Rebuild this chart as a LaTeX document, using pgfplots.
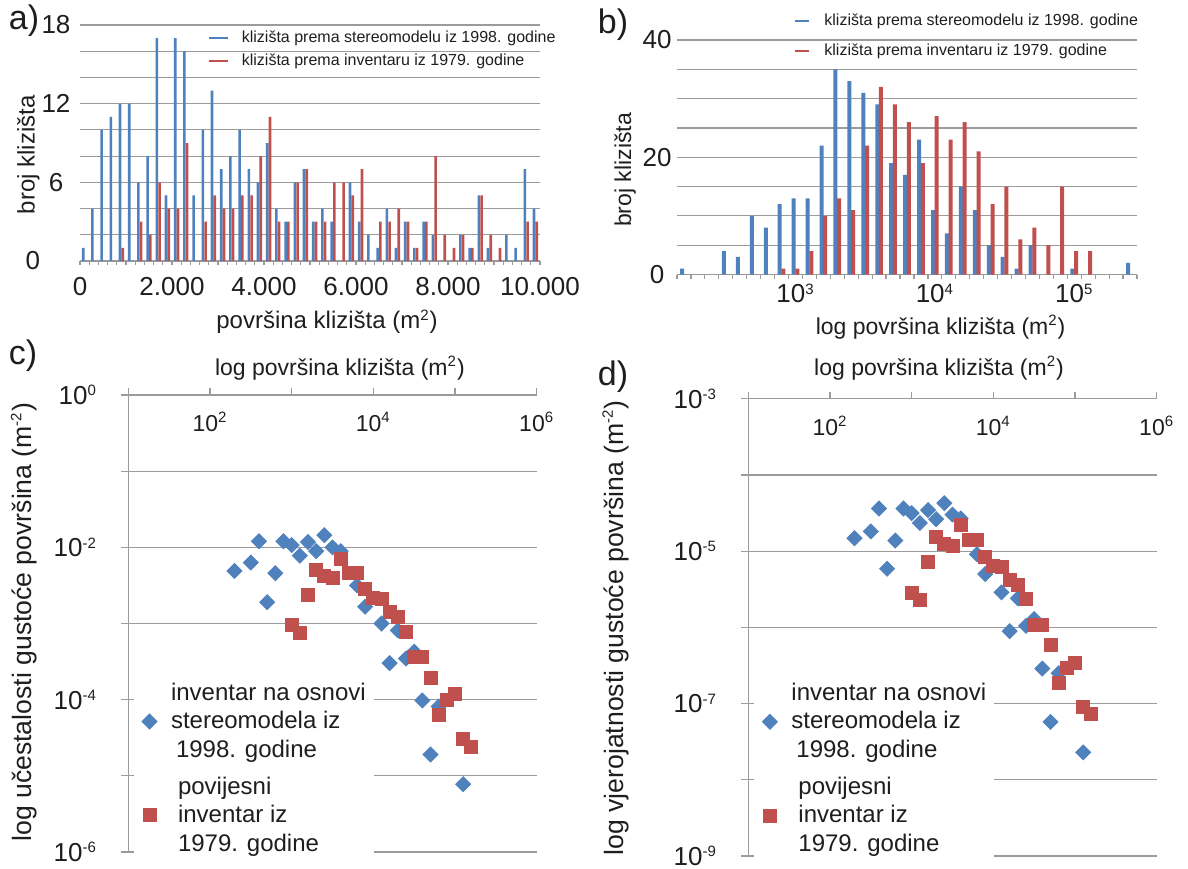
\documentclass[border=0pt]{standalone}
\usepackage{pgfplots}
\usepackage{pgfplotstable}
\pgfplotsset{compat=1.18}
\usepackage{fontspec}
\setmainfont{Liberation Sans}
\definecolor{cblue}{RGB}{79,129,189}
\definecolor{cred}{RGB}{192,80,77}
\definecolor{cgrid}{RGB}{155,155,155}
\definecolor{ctext}{RGB}{30,30,30}
\newcommand\sups[1]{\textsuperscript{\fontsize{7.5}{8}\selectfont #1}}

\pgfplotstableread{
x b r
100 1 0
300 4 0
500 10 0
700 11 0
900 12 1
1100 12 0
1300 6 3
1500 8 2
1700 17 6
1900 5 4
2100 17 4
2300 16 9
2500 5 0
2700 10 3
2900 13 5
3100 7 4
3300 8 4
3500 10 5
3700 7 5
3900 6 8
4100 9 11
4300 4 3
4500 3 3
4700 6 6
4900 7 7
5100 3 3
5300 4 3
5500 3 6
5700 0 6
5900 6 5
6100 3 7
6300 2 0
6500 1 3
6700 4 3
6900 1 4
7100 3 3
7300 1 1
7500 3 3
7700 2 8
7900 0 2
8100 0 1
8300 2 2
8500 1 1
8700 5 5
8900 1 2
9100 0 1
9300 2 0
9500 1 0
9700 7 3
9900 4 3
}\histA

\pgfplotstableread{
e b r
2.2 1 0
2.3 0 0
2.4 0 0
2.5 4 0
2.6 3 0
2.7 10 0
2.8 8 0
2.9 12 1
3.0 13 1
3.1 13 4
3.2 22 10
3.3 35 13
3.4 33 11
3.5 31 22
3.6 29 32
3.7 19 29
3.8 17 26
3.9 23 19
4.0 11 27
4.1 7 23
4.2 15 26
4.3 11 21
4.4 5 12
4.5 3 15
4.6 1 6
4.7 5 8
4.8 0 5
4.9 0 15
5.0 1 4
5.1 0 4
5.2 0 0
5.3 0 0
5.4 2 0
}\histB

\pgfplotstableread{
lx ly
2.3 -2.31
2.5 -2.20
2.6 -1.92
2.7 -2.72
2.8 -2.34
2.9 -1.92
3.0 -1.97
3.1 -2.11
3.2 -1.93
3.3 -2.05
3.4 -1.84
3.5 -2.00
3.6 -2.05
3.8 -2.50
3.9 -2.78
4.1 -3.00
4.2 -3.52
4.3 -3.09
4.4 -3.46
4.5 -3.37
4.6 -4.01
4.7 -4.72
4.8 -4.09
5.1 -5.11
}\cBlue

\pgfplotstableread{
lx ly
3.0 -3.02
3.1 -3.12
3.2 -2.62
3.3 -2.29
3.4 -2.38
3.5 -2.40
3.6 -2.15
3.7 -2.34
3.8 -2.34
3.9 -2.55
4.0 -2.66
4.1 -2.68
4.2 -2.85
4.3 -2.91
4.4 -3.11
4.5 -3.44
4.6 -3.44
4.7 -3.72
4.8 -4.20
4.9 -4.00
5.0 -3.93
5.1 -4.52
5.2 -4.62
}\cRed

\pgfplotstableread{
lx ly
2.3 -4.83
2.5 -4.74
2.6 -4.44
2.7 -5.23
2.8 -4.86
2.9 -4.44
3.0 -4.50
3.1 -4.63
3.2 -4.46
3.3 -4.58
3.4 -4.37
3.5 -4.52
3.6 -4.57
3.8 -5.04
3.9 -5.30
4.1 -5.54
4.2 -6.05
4.3 -5.62
4.4 -5.98
4.5 -5.89
4.6 -6.54
4.7 -7.24
4.8 -6.60
5.1 -7.64
}\dBlue

\pgfplotstableread{
lx ly
3.0 -5.55
3.1 -5.64
3.2 -5.14
3.3 -4.81
3.4 -4.90
3.5 -4.93
3.6 -4.66
3.7 -4.85
3.8 -4.85
3.9 -5.07
4.0 -5.19
4.1 -5.20
4.2 -5.38
4.3 -5.44
4.4 -5.63
4.5 -5.97
4.6 -5.97
4.7 -6.23
4.8 -6.73
4.9 -6.53
5.0 -6.47
5.1 -7.04
5.2 -7.14
}\dRed

\pgfplotsset{
  histstyle/.style={
    scale only axis,
    scaled ticks=false,
    axis x line*=bottom, axis y line*=left,
    axis line style={-},
    x axis line style={cgrid, line width=0.6pt},
    y axis line style={draw=none},
    tick align=outside,
    tick style={cgrid, line width=0.6pt},
    ytick style={draw=none},
    ymajorgrids, grid style={cgrid, line width=0.6pt},
    xticklabel style={font=\fontsize{13}{15}\selectfont, text=ctext, anchor=center},
    yticklabel style={font=\fontsize{13}{15}\selectfont, text=ctext, anchor=center},
    legend cell align=left,
  },
  logstyle/.style={
    scale only axis,
    scaled ticks=false,
    xmin=1, xmax=6,
    axis x line*=top, axis y line*=left,
    axis line style={-, cgrid, line width=0.6pt},
    tick align=outside, major tick length=3.5pt,
    tick style={cgrid, line width=0.6pt},
    xtick={1,2,3,4,5,6},
    xticklabels={,10\sups{2},,10\sups{4},,10\sups{6}},
    ymajorgrids, grid style={cgrid, line width=0.6pt},
    xticklabel style={font=\fontsize{11.5}{14}\selectfont, text=ctext, anchor=center, yshift=-17pt},
    yticklabel style={font=\fontsize{13}{15}\selectfont, text=ctext, anchor=east, inner sep=0pt, xshift=-12pt},
    xlabel={log površina klizišta (m\sups{2})},
    legend cell align=left,
  },
  bluemark/.style={only marks, mark=square*, mark size=2.65pt, mark options={rotate=45, fill=cblue, draw=cblue},
    legend image code/.code={\draw[mark repeat=2,mark phase=2,##1] plot coordinates {(0pt,0pt) (6pt,0pt) (12pt,0pt)};}},
  redmark/.style={only marks, mark=square*, mark size=3.25pt, mark options={fill=cred, draw=cred},
    legend image code/.code={\draw[mark repeat=2,mark phase=2,##1] plot coordinates {(0pt,0pt) (6pt,0pt) (12pt,0pt)};}},
}

\begin{document}
\begin{tikzpicture}
\useasboundingbox (0,0) rectangle (594pt,-434pt);

% ---------- a) ----------
\begin{axis}[histstyle,
  at={(40pt,-130.5pt)}, anchor=south west,
  width=230pt, height=118pt,
  xmin=0, xmax=10000, ymin=0, ymax=18,
  major tick length=2pt, minor tick length=2pt,
  xtick={0,2000,4000,6000,8000,10000},
  xticklabels={0,2.000,4.000,6.000,8.000,10.000},
  minor x tick num=9,
  ytick={0,2,...,18},
  yticklabels={{\makebox[0pt][r]{\raisebox{-2pt}{0}\kern8pt}},,,6,,,12,,,18},
  xticklabel style={yshift=-11pt},
  yticklabel style={xshift=-10pt},
  xlabel={površina klizišta (m\sups{2})},
  ylabel={broj klizišta},
  every axis x label/.style={at={(axis description cs:0.537,-0.258)}, anchor=center, font=\fontsize{12}{14}\selectfont, text=ctext},
  every axis y label/.style={at={(axis description cs:-0.112,0.45)}, anchor=center, rotate=90, font=\fontsize{12}{14}\selectfont, text=ctext},
  legend style={at={(axis description cs:0.278,0.983)}, anchor=north west, draw=none, fill=none, inner sep=0pt, outer sep=0pt,
    font=\fontsize{8}{9.6}\selectfont, text=ctext, row sep=2.2pt, nodes={inner sep=1pt},
    /tikz/every odd column/.append style={column sep=5.5pt}},
]
\addplot[ybar, bar width=1.3pt, bar shift=-0.68pt, fill=cblue, draw=none,
  legend image code/.code={\draw[cblue, line width=1pt] (0pt,0pt) -- (9.5pt,0pt);}]
  table[x=x, y=b] {\histA};
\addlegendentry{klizišta prema stereomodelu iz 1998. godine}
\addplot[ybar, bar width=1.3pt, bar shift=0.68pt, fill=cred, draw=none,
  legend image code/.code={\draw[cred, line width=1pt] (0pt,0pt) -- (9.5pt,0pt);}]
  table[x=x, y=r] {\histA};
\addlegendentry{klizišta prema inventaru iz 1979. godine}
\end{axis}

% ---------- b) ----------
\begin{axis}[histstyle,
  at={(338.5pt,-137.25pt)}, anchor=south west,
  width=230pt, height=117.25pt,
  xmin=2.15, xmax=5.45, ymin=0, ymax=40,
  major tick length=0pt, minor tick length=2pt,
  xtick={3,4,5},
  xticklabels={10\sups{3},10\sups{4},10\sups{5}},
  minor xtick={2.15,2.25,...,5.46},
  ytick={0,5,...,40},
  yticklabels={0,,,,20,,,,40},
  xticklabel style={yshift=-9.5pt},
  yticklabel style={xshift=-10pt},
  xlabel={log površina klizišta (m\sups{2})},
  ylabel={broj klizišta},
  every axis x label/.style={at={(axis description cs:0.573,-0.224)}, anchor=center, font=\fontsize{11.5}{14}\selectfont, text=ctext},
  every axis y label/.style={at={(axis description cs:-0.113,0.446)}, anchor=center, rotate=90, font=\fontsize{11.5}{14}\selectfont, text=ctext},
  legend style={at={(axis description cs:0.254,1.119)}, anchor=north west, draw=none, fill=none, inner sep=0pt, outer sep=0pt,
    font=\fontsize{8}{9.6}\selectfont, text=ctext, row sep=5.5pt, nodes={inner sep=1pt},
    /tikz/every odd column/.append style={column sep=6.3pt}},
]
\addplot[ybar, bar width=2pt, bar shift=-0.93pt, fill=cblue, draw=none,
  legend image code/.code={\draw[cblue, line width=1pt] (0pt,0pt) -- (7pt,0pt);}]
  table[x=e, y=b] {\histB};
\addlegendentry{klizišta prema stereomodelu iz 1998. godine}
\addplot[ybar, bar width=2pt, bar shift=0.93pt, fill=cred, draw=none,
  legend image code/.code={\draw[cred, line width=1pt] (0pt,0pt) -- (7pt,0pt);}]
  table[x=e, y=r] {\histB};
\addlegendentry{klizišta prema inventaru iz 1979. godine}
\end{axis}

% ---------- c) ----------
\begin{axis}[logstyle,
  at={(64.15pt,-197.5pt)}, anchor=north west,
  width=204.2pt, height=228.5pt,
  ymin=-6, ymax=0,
  ytick={-6,-5,...,0},
  yticklabels={10\sups{-6},,10\sups{-4},,10\sups{-2},,10\sups{0}},
  ylabel={log učestalosti gustoće površina (m\sups{-2})},
  every axis x label/.style={at={(axis description cs:0.518,1.059)}, anchor=center, font=\fontsize{11.5}{14}\selectfont, text=ctext},
  every axis y label/.style={at={(axis description cs:-0.255,0.503)}, anchor=center, rotate=90, font=\fontsize{13.3}{16}\selectfont, text=ctext},
  legend style={at={(axis description cs:0.014,0.379)}, anchor=north west, draw=none, fill=white, inner xsep=4pt, inner ysep=2pt, outer sep=0pt,
    font=\fontsize{12}{14.25}\selectfont, text=ctext, cells={align=left}, row sep=8.25pt, nodes={inner sep=0pt},
    /tikz/every odd column/.append style={column sep=7pt}},
]
\addplot[bluemark] table[x=lx, y=ly] {\cBlue};
\addlegendentry{inventar na osnovi\\stereomodela iz\\\hspace*{2.5pt}1998. godine}
\addplot[redmark] table[x=lx, y=ly] {\cRed};
\addlegendentry{\hspace*{3.5pt}povijesni\\\hspace*{3.5pt}inventar iz\\\hspace*{3.5pt}1979. godine}
\end{axis}

% ---------- d) ----------
\begin{axis}[logstyle,
  at={(374.15pt,-199.4pt)}, anchor=north west,
  width=204.2pt, height=228.6pt,
  ymin=-9, ymax=-3,
  ytick={-9,-8,...,-3},
  yticklabels={10\sups{-9},,10\sups{-7},,10\sups{-5},,10\sups{-3}},
  ylabel={log vjerojatnosti gustoće površina (m\sups{-2})},
  every axis x label/.style={at={(axis description cs:0.467,1.067)}, anchor=center, font=\fontsize{11.5}{14}\selectfont, text=ctext},
  every axis y label/.style={at={(axis description cs:-0.325,0.499)}, anchor=center, rotate=90, font=\fontsize{13.3}{16}\selectfont, text=ctext},
  legend style={at={(axis description cs:0.015,0.387)}, anchor=north west, draw=none, fill=white, inner xsep=4pt, inner ysep=2pt, outer sep=0pt,
    font=\fontsize{12}{14.25}\selectfont, text=ctext, cells={align=left}, row sep=8.25pt, nodes={inner sep=0pt},
    /tikz/every odd column/.append style={column sep=7pt}},
]
\addplot[bluemark] table[x=lx, y=ly] {\dBlue};
\addlegendentry{inventar na osnovi\\stereomodela iz\\\hspace*{2.5pt}1998. godine}
\addplot[redmark] table[x=lx, y=ly] {\dRed};
\addlegendentry{\hspace*{3.5pt}povijesni\\\hspace*{3.5pt}inventar iz\\\hspace*{3.5pt}1979. godine}
\end{axis}

\begin{scope}[x=0.5pt,y=-0.5pt]
\node[font=\fontsize{17}{20}\selectfont, text=ctext] at (24,21) {a)};
\node[font=\fontsize{17}{20}\selectfont, text=ctext] at (613,25) {b)};
\node[font=\fontsize{17}{20}\selectfont, text=ctext] at (23,356) {c)};
\node[font=\fontsize{17}{20}\selectfont, text=ctext] at (613,377) {d)};
\end{scope}
\end{tikzpicture}
\end{document}
